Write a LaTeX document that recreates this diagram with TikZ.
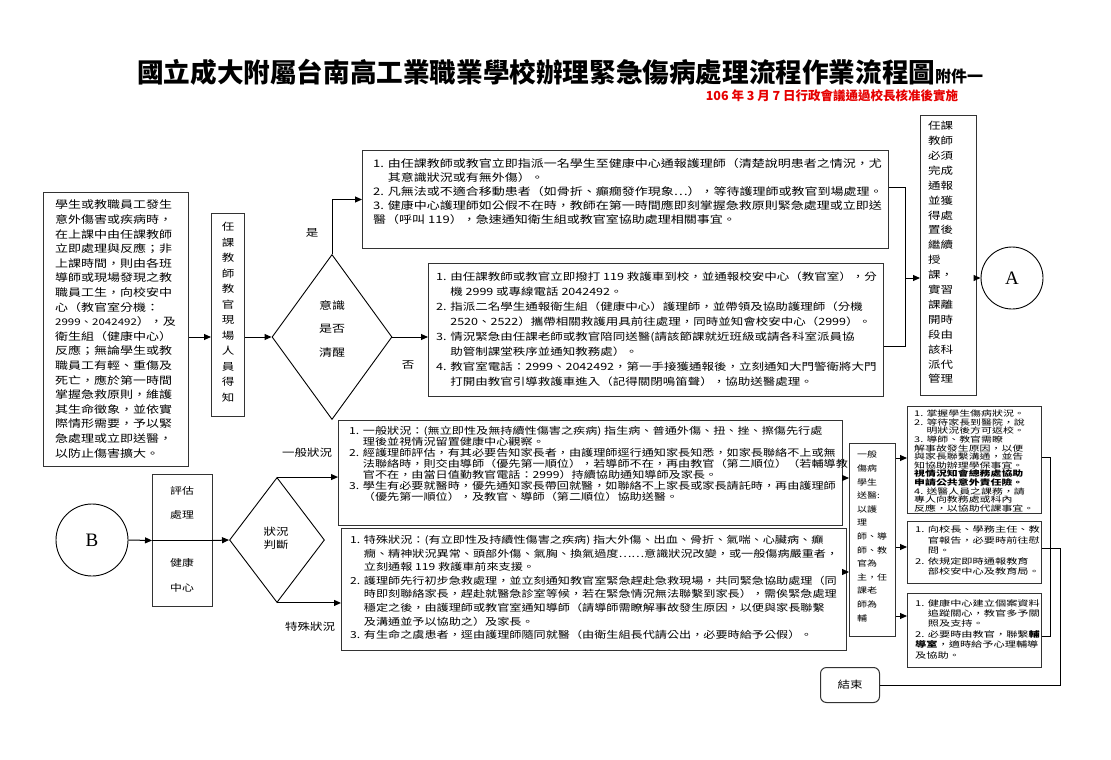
\documentclass[tikz,border=0pt]{standalone}
\usepackage{fontspec}
\setmainfont{Noto Sans CJK TC}[FakeStretch=1.25]
\newfontfamily\titlefont{Noto Sans CJK TC}
\newfontfamily\densefont{Noto Sans CJK TC}[FakeStretch=1.4]
\newfontfamily\letterfont{Liberation Serif}
\usetikzlibrary{arrows.meta,shapes.geometric,positioning}

\newcommand{\fsz}[2]{\fontsize{#1}{#2}\selectfont}
\newcommand{\numind}{\phantom{1. }}

\tikzset{
  box/.style={draw=black!80, line width=1pt, inner sep=0pt, anchor=north west},
  txt/.style={inner sep=0pt, anchor=north west, align=left},
  arr/.style={-{Triangle[length=7pt,width=6pt]}, line width=1pt},
  conn/.style={line width=1pt},
  decide/.style={diamond, draw, line width=0.9pt, inner sep=0pt},
  endpt/.style={circle, draw, line width=0.9pt, inner sep=0pt, font=\letterfont\fsz{19}{19}},
  word/.style={inner sep=0pt, font=\fsz{10}{12}},
}

\begin{document}
\begin{tikzpicture}[x=1pt,y=-1pt]
\useasboundingbox (0,0) rectangle (1111,760);
\fill[white] (0,0) rectangle (1111,760);

% title
\node[anchor=base west, inner sep=0pt, font=\titlefont\bfseries\fsz{26.6}{30}] (title) at (137,82)
  {國立成大附屬台南高工業職業學校辦理緊急傷病處理流程作業流程圖{\fsz{16}{16}附件一}};
\node[inner sep=0pt, text={rgb,255:red,230;green,0;blue,0}, font=\titlefont\bfseries\fsz{12.5}{14}] (date) at (832,96)
  {106 年 3 月 7 日行政會議通過校長核准後實施};

% upper part
\node[box, minimum width=145pt, minimum height=274pt] (lbox) at (43,192) {};
\node[txt, font=\fsz{10.4}{14.6}] at ([shift={(12,8)}]lbox.north west) {學生或教職員工發生\\意外傷害或疾病時，\\在上課中由任課教師\\立即處理與反應；非\\上課時間，則由各班\\導師或現場發現之教\\職員工生，向校安中\\心（教官室分機：\\{\fsz{9.2}{14.6}2999、2042492}），及\\衛生組（健康中心）\\反應；無論學生或教\\職員工有輕、重傷及\\死亡，應於第一時間\\掌握急救原則，維護\\其生命徵象，並依實\\際情形需要，予以緊\\急處理或立即送醫，\\以防止傷害擴大。};

\node[box, minimum width=33pt, minimum height=203pt] (know) at (211,213) {};
\node[inner sep=0pt, anchor=north, align=center, font=\fsz{10}{15.5}] at ([shift={(0,9)}]know.north) {任\\課\\教\\師\\教\\官\\現\\場\\人\\員\\得\\知};

\node[decide, minimum width=120pt, minimum height=165pt] (aware) at (332,337) {};
\node[inner sep=0pt, align=center, font=\fsz{10.4}{23.5}] at (332,329) {意識\\是否\\清醒};
\node[word] at (312,233) {是};
\node[word] at (408,365) {否};

\node[box, minimum width=526pt, minimum height=98pt] (topb) at (362,150) {};
\node[txt, font=\fsz{10.4}{14}] at ([shift={(11,8)}]topb.north west) {1. 由任課教師或教官立即指派一名學生至健康中心通報護理師（清楚說明患者之情況，尤\\\numind 其意識狀況或有無外傷）。\\2. 凡無法或不適合移動患者（如骨折、癲癇發作現象…），等待護理師或教官到場處理。\\3. 健康中心護理師如公假不在時，教師在第一時間應即刻掌握急救原則緊急處理或立即送\\醫（呼叫 119），急速通知衛生組或教官室協助處理相關事宜。};

\node[box, minimum width=455pt, minimum height=133pt] (treat) at (428,263) {};
\node[txt, font=\fsz{10}{15}] at ([shift={(8,9)}]treat.north west) {1. 由任課教師或教官立即撥打 119 救護車到校，並通報校安中心（教官室），分\\\numind 機 2999 或專線電話 2042492。\\2. 指派二名學生通報衛生組（健康中心）護理師，並帶領及協助護理師（分機\\\numind 2520、2522）攜帶相關救護用具前往處理，同時並知會校安中心（2999）。\\3. 情況緊急由任課老師或教官陪同送醫(請該節課就近班級或請各科室派員協\\\numind 助管制課堂秩序並通知教務處）。\\4. 教官室電話：2999、2042492，第一手接獲通報後，立刻通知大門警衛將大門\\\numind 打開由教官引導救護車進入（記得關閉鳴笛聲），協助送醫處理。};

\node[box, minimum width=56pt, minimum height=280pt] (notify) at (920,115) {};
\node[txt, font=\fsz{10}{14.9}] at ([shift={(8,6)}]notify.north west) {任課\\教師\\必須\\完成\\通報\\並獲\\得處\\置後\\繼續\\授\\課，\\實習\\課離\\開時\\段由\\該科\\派代\\管理};

\node[endpt, minimum size=62pt] (A) at (1012,278) {A};

\coordinate (j1) at (905,187);
\coordinate (j2) at (905,346);

\draw[arr] (lbox.east |- aware.west) -- (aware.west -| know.west);
\draw[arr] (know.east |- aware.west) -- (aware.west);
\draw[arr] (aware.north) |- (topb.west);
\draw[arr] (aware.east) -- (aware.east -| treat.west);
\draw[conn] (topb.east |- j1) -- (j1) -- (j2) -- (treat.east |- j2);
\draw[arr] (j1 |- A) -- (notify.west |- A);
\draw[arr] (notify.east |- A) -- (A.west);

% lower part
\node[endpt, minimum size=72pt] (B) at (92,540) {B};
\node[box, minimum width=60pt, minimum height=132pt] (assess) at (152,474) {};
\node[word, font=\fsz{9.5}{12}] at (182,491) {評估};
\node[word, font=\fsz{9.5}{12}] at (182,515) {處理};
\node[word, font=\fsz{9.5}{12}] at (182,563) {健康};
\node[word, font=\fsz{9.5}{12}] at (182,588) {中心};

\node[decide, minimum width=95pt, minimum height=125pt] (judge) at (277,540) {};
\node[inner sep=0pt, align=center, font=\fsz{10}{12.5}] at (276,538) {狀況\\判斷};
\node[word] at (307,453) {一般狀況};
\node[word] at (310,627) {特殊狀況};

\node[box, minimum width=504pt, minimum height=105pt] (general) at (338,420) {};
\node[txt, font=\fsz{9.7}{11}] at ([shift={(11,6)}]general.north west) {1. 一般狀況：(無立即性及無持續性傷害之疾病) 指生病、普通外傷、扭、挫、擦傷先行處\\\numind 理後並視情況留置健康中心觀察。\\2. 經護理師評估，有其必要告知家長者，由護理師逕行通知家長知悉，如家長聯絡不上或無\\\numind 法聯絡時，則交由導師（優先第一順位），若導師不在，再由教官（第二順位）（若輔導教\\\numind 官不在，由當日值勤教官電話：2999）持續協助通知導師及家長。\\3. 學生有必要就醫時，優先通知家長帶回就醫，如聯絡不上家長或家長請託時，再由護理師\\\numind（優先第一順位），及教官、導師（第二順位）協助送醫。};

\node[box, minimum width=505pt, minimum height=122pt] (special) at (341,528) {};
\node[txt, font=\fsz{9.7}{13.6}] at ([shift={(9,7)}]special.north west) {1. 特殊狀況：(有立即性及持續性傷害之疾病) 指大外傷、出血、骨折、氣喘、心臟病、癲\\\numind 癇、精神狀況異常、頭部外傷、氣胸、換氣過度……意識狀況改變，或一般傷病嚴重者，\\\numind 立刻通報 119 救護車前來支援。\\2. 護理師先行初步急救處理，並立刻通知教官室緊急趕赴急救現場，共同緊急協助處理（同\\\numind 時即刻聯絡家長，趕赴就醫急診室等候，若在緊急情況無法聯繫到家長），需俟緊急處理\\\numind 穩定之後，由護理師或教官室通知導師（請導師需瞭解事故發生原因，以便與家長聯繫\\\numind 及溝通並予以協助之）及家長。\\3. 有生命之虞患者，逕由護理師隨同就醫（由衛生組長代請公出，必要時給予公假）。};

\node[box, minimum width=46pt, minimum height=193pt] (hosp) at (849,443) {};
\node[txt, font=\fsz{8}{13.6}] at ([shift={(8,8)}]hosp.north west) {一般\\傷病\\學生\\送醫:\\以護\\理\\師、導\\師、教\\官為\\主，任\\課老\\師為\\輔};

\node[box, minimum width=134pt, minimum height=107pt] (r1) at (907,406) {};
\node[txt, font=\densefont\fsz{7.8}{8.6}] at ([shift={(7,4)}]r1.north west) {1. 掌握學生傷病狀況。\\2. 等待家長到醫院，說\\\numind 明狀況後方可返校。\\3. 導師、教官需瞭\\解事故發生原因，以便\\與家長聯繫溝通，並告\\知協助辦理學保事宜。\\\textbf{視情況知會總務處協助}\\\textbf{申請公共意外責任險。}\\4. 送醫人員之課務，請\\專人向教務處或科內\\反應，以協助代課事宜。};

\node[box, minimum width=134pt, minimum height=62pt] (r2) at (907,521) {};
\node[txt, font=\densefont\fsz{8}{10.4}] at ([shift={(8,5)}]r2.north west) {1. 向校長、學務主任、教\\\numind 官報告，必要時前往慰\\\numind 問。\\2. 依規定即時通報教育\\\numind 部校安中心及教育局。};

\node[box, minimum width=134pt, minimum height=74pt] (r3) at (907,593) {};
\node[txt, font=\densefont\fsz{8}{10.4}] at ([shift={(8,6)}]r3.north west) {1. 健康中心建立個案資料\\\numind 追蹤關心，教官多予關\\\numind 照及支持。\\2. 必要時由教官，聯繫\textbf{輔}\\\textbf{導室}，適時給予心理輔導\\及協助。};

\node[box, rounded corners=6pt, anchor=center, minimum width=59pt, minimum height=35pt, font=\fsz{10}{12}] (fin) at (850,685) {結束};

\coordinate (g-out) at (845,478);
\coordinate (s-out) at (845,572);
\coordinate (k1) at (1050,457);
\coordinate (k2) at (1050,636);
\coordinate (m1) at (1060,548);

\draw[arr] (B.east) -- (assess.west);
\draw[conn] (assess.west) -- (assess.east);
\draw[arr] (assess.east) -- (judge.west);
\draw[arr] (judge.north) -- (judge.north -| general.west);
\draw[arr] (judge.south) -- (judge.south -| special.west);
\draw[arr] (general.east |- g-out) -- (hosp.west |- g-out);
\draw[arr] (special.east |- s-out) -- (hosp.west |- s-out);
\draw[arr] (hosp.east |- 0,458) -- (r1.west |- 0,458);
\draw[arr] (hosp.east |- 0,547) -- (r2.west |- 0,547);
\draw[arr] (hosp.east |- 0,616) -- (r3.west |- 0,616);
\draw[conn] (r1.east |- k1) -- (k1) -- (k2) -- (r3.east |- k2);
\draw[conn] (r2.east |- m1) -- (m1) |- (fin.east);
\end{tikzpicture}
\end{document}
